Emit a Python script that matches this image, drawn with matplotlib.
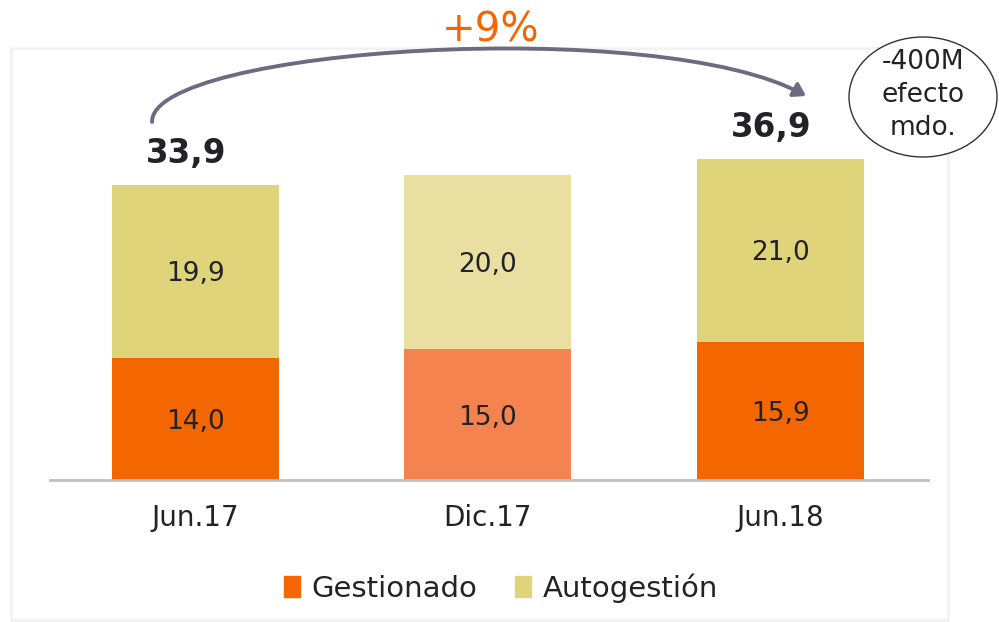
import matplotlib
matplotlib.use("Agg")
import matplotlib.pyplot as plt
from matplotlib.patches import Rectangle, Ellipse, FancyArrowPatch
from matplotlib.path import Path

categories = ["Jun.17", "Dic.17", "Jun.18"]
gestionado = [14.0, 15.0, 15.9]
autogestion = [19.9, 20.0, 21.0]
totals = {0: "33,9", 2: "36,9"}
growth_label = "+9%"
note_label = "-400M\nefecto\nmdo."

orange = ["#F46600", "#F4834F", "#F46600"]
khaki = ["#E0D47A", "#E8DFA0", "#E0D47A"]
text_col = "#222228"

plt.rcParams['font.family'] = ['DejaVu Sans']

fig = plt.figure(figsize=(9.99, 6.22), dpi=100)
W, H = 999, 622

def fx(px):
    return px / W

def fy(py):
    return 1 - py / H

# card background with faint shadow
fig.add_artist(Rectangle((fx(11), fy(620)), fx(948) - fx(11), fy(48) - fy(620),
                         transform=fig.transFigure, facecolor="white",
                         edgecolor="#F2F2F2", lw=2, zorder=0))

ax = fig.add_axes([fx(50), fy(480), fx(928) - fx(50), fy(0) - fy(480)])
ax.set_facecolor("none")
x = list(range(len(categories)))
width = 167 / 292.5
ax.bar(x, gestionado, width=width, color=orange, zorder=2)
ax.bar(x, autogestion, bottom=gestionado, width=width, color=khaki, zorder=2)
ax.set_xlim(-0.496, 2.506)
ax.set_ylim(0, 480 / 8.71)

for i in x:
    ax.text(i, gestionado[i] / 2 - 0.35, f"{gestionado[i]:.1f}".replace(".", ","),
            ha="center", va="center", fontsize=19, color=text_col)
    ax.text(i, gestionado[i] + autogestion[i] / 2 - 0.35,
            f"{autogestion[i]:.1f}".replace(".", ","),
            ha="center", va="center", fontsize=19, color=text_col)

for i, lab in totals.items():
    tot = gestionado[i] + autogestion[i]
    ax.text(i - 0.03, tot + 3.6, lab, ha="center", va="center", fontsize=23.5,
            fontweight="bold", color=text_col)

for s in ["top", "right", "left"]:
    ax.spines[s].set_visible(False)
ax.spines["bottom"].set_color("#BFBFBF")
ax.spines["bottom"].set_linewidth(2)
ax.set_yticks([])
ax.set_xticks(x)
ax.set_xticklabels(categories, fontsize=20, color=text_col)
ax.tick_params(axis="x", length=0, pad=17)

# curved arrow
def d(px, py):
    return ((px - 195) / 292.5, (480 - py) / 8.71)

verts = [d(152, 122), d(150, 48), d(660, 15), d(806, 96)]
path = Path(verts, [Path.MOVETO, Path.CURVE4, Path.CURVE4, Path.CURVE4])
arr = FancyArrowPatch(path=path, arrowstyle="-|>,head_length=7,head_width=4.5",
                      color="#6E6A80", lw=2.8, zorder=3, clip_on=False,
                      transform=ax.transData)
ax.add_patch(arr)

fig.text(fx(491), fy(31), growth_label, ha="center", va="center",
         fontsize=29, color="#F46600")

# ellipse note
fig.add_artist(Ellipse((fx(923), fy(97)), fx(148), 120 / H,
                       transform=fig.transFigure, facecolor="white",
                       edgecolor="#333333", lw=1, zorder=5))
fig.text(fx(923), fy(95), note_label, ha="center", va="center", fontsize=19,
         color=text_col, linespacing=1.35, zorder=6)

# legend
handles = [Rectangle((0, 0), 1, 1, color=orange[0]), Rectangle((0, 0), 1, 1, color=khaki[0])]
fig.legend(handles, ["Gestionado", "Autogestión"], loc="center",
           bbox_to_anchor=(fx(501), fy(588)), ncol=2, frameon=False,
           fontsize=21, handlelength=0.55, handleheight=0.75, handletextpad=0.4,
           columnspacing=1.3, labelcolor=text_col)

fig.savefig("out.png", dpi=100)
